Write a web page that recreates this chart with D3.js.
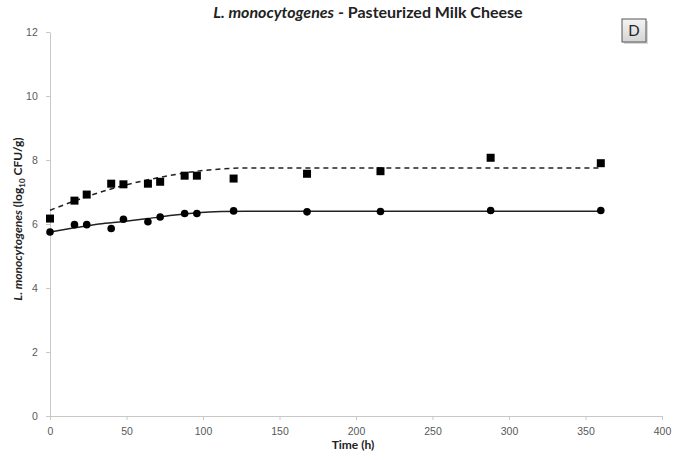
<!DOCTYPE html>
<html>
<head>
<meta charset="utf-8">
<script src="https://cdn.jsdelivr.net/npm/d3@7"></script>
<style>
  body { margin: 0; background: #fff; }
  svg { font-family: Lato, "Open Sans", sans-serif; }
</style>
</head>
<body>
<div id="chart"></div>
<script>
// sampling times (h)
const times = [0, 16, 24, 40, 48, 64, 72, 88, 96, 120, 168, 216, 288, 360];
// observed counts, log10 CFU/g
const squareObs = [6.17, 6.73, 6.92, 7.26, 7.24, 7.26, 7.32, 7.51, 7.51, 7.42, 7.57, 7.65, 8.07, 7.90];
const circleObs = [5.75, 5.98, 5.98, 5.86, 6.15, 6.07, 6.22, 6.33, 6.33, 6.41, 6.38, 6.39, 6.42, 6.42];

// fitted curves
const fitTimes = [0, 16, 32, 48, 64, 80, 96, 112, 128, 360];
const dashedFit = [6.43, 6.72, 6.98, 7.20, 7.38, 7.53, 7.65, 7.72, 7.75, 7.75];
const solidFit = [5.75, 5.88, 6.00, 6.08, 6.17, 6.27, 6.35, 6.39, 6.40, 6.40];

const xTicks = [0, 50, 100, 150, 200, 250, 300, 350, 400];
const yTicks = [0, 2, 4, 6, 8, 10, 12];

const margin = {top: 32, right: 29, bottom: 44, left: 50};
const width = 691 - margin.left - margin.right;
const height = 460 - margin.top - margin.bottom;

const svg = d3.select('#chart').append('svg')
    .attr('width', 691)
    .attr('height', 460);

const g = svg.append('g')
    .attr('transform', `translate(${margin.left},${margin.top})`);

const x = d3.scaleLinear().domain([0, 400]).range([0, width]);
const y = d3.scaleLinear().domain([0, 12]).range([height, 0]);

const axisColor = '#c8c8c8';
const labelColor = '#595959';

// axes
g.append('g')
    .attr('transform', `translate(0,${height})`)
    .call(d3.axisBottom(x).tickValues(xTicks).tickSize(4).tickSizeOuter(0))
    .call(a => a.select('.domain').attr('stroke', axisColor))
    .call(a => a.selectAll('line').attr('stroke', axisColor))
    .call(a => a.selectAll('text').attr('fill', labelColor).attr('font-size', 10.5).attr('dy', '1.1em'));

g.append('g')
    .call(d3.axisLeft(y).tickValues(yTicks).tickSize(4).tickSizeOuter(0))
    .call(a => a.select('.domain').attr('stroke', axisColor))
    .call(a => a.selectAll('line').attr('stroke', axisColor))
    .call(a => a.selectAll('text').attr('fill', labelColor).attr('font-size', 10.5).attr('dx', '-0.5em'));

// fitted lines
const line = d3.line()
    .x(d => x(d[0]))
    .y(d => y(d[1]))
    .curve(d3.curveMonotoneX);

g.append('path')
    .datum(fitTimes.map((t, i) => [t, dashedFit[i]]))
    .attr('fill', 'none')
    .attr('stroke', '#222')
    .attr('stroke-width', 1.5)
    .attr('stroke-dasharray', '5,4')
    .attr('d', line);

g.append('path')
    .datum(fitTimes.map((t, i) => [t, solidFit[i]]))
    .attr('fill', 'none')
    .attr('stroke', '#222')
    .attr('stroke-width', 1.5)
    .attr('d', line);

// observations
g.append('g').selectAll('rect')
  .data(times.map((t, i) => [t, squareObs[i]]))
  .join('rect')
    .attr('x', d => x(d[0]) - 4)
    .attr('y', d => y(d[1]) - 4)
    .attr('width', 8)
    .attr('height', 8)
    .attr('fill', '#000');

g.append('g').selectAll('circle')
  .data(times.map((t, i) => [t, circleObs[i]]))
  .join('circle')
    .attr('cx', d => x(d[0]))
    .attr('cy', d => y(d[1]))
    .attr('r', 3.8)
    .attr('fill', '#000');

// title
const title = svg.append('text')
    .attr('x', 368)
    .attr('y', 18)
    .attr('text-anchor', 'middle')
    .attr('font-size', 16)
    .attr('font-weight', 'bold')
    .attr('fill', '#222');
title.append('tspan').attr('font-style', 'italic').text('L. monocytogenes');
title.append('tspan').text(' - Pasteurized Milk Cheese');

// y label
const yLabel = svg.append('text')
    .attr('transform', `translate(22,219) rotate(-90)`)
    .attr('text-anchor', 'middle')
    .attr('font-size', 12)
    .attr('font-weight', 'bold')
    .attr('fill', '#222');
yLabel.append('tspan').attr('font-style', 'italic').text('L. monocytogenes');
yLabel.append('tspan').text(' (log');
yLabel.append('tspan').attr('font-size', 8).attr('dy', 3).text('10');
yLabel.append('tspan').attr('dy', -3).text(' CFU/g)');

// x label
svg.append('text')
    .attr('x', 353)
    .attr('y', 449)
    .attr('text-anchor', 'middle')
    .attr('font-size', 12)
    .attr('font-weight', 'bold')
    .attr('fill', '#222')
    .text('Time (h)');

// panel badge
const defs = svg.append('defs');
const grad = defs.append('linearGradient')
    .attr('id', 'badge')
    .attr('x1', 0).attr('y1', 0).attr('x2', 0).attr('y2', 1);
grad.append('stop').attr('offset', '0%').attr('stop-color', '#f4f4f4');
grad.append('stop').attr('offset', '100%').attr('stop-color', '#d4d4d4');

svg.append('rect')
    .attr('x', 624).attr('y', 21)
    .attr('width', 24).attr('height', 23)
    .attr('fill', '#d8d8d8');
svg.append('rect')
    .attr('x', 622).attr('y', 19)
    .attr('width', 24).attr('height', 23)
    .attr('fill', 'url(#badge)')
    .attr('stroke', '#555')
    .attr('stroke-width', 1);
svg.append('text')
    .attr('x', 634).attr('y', 36)
    .attr('text-anchor', 'middle')
    .attr('font-size', 15)
    .attr('fill', '#222')
    .text('D');
</script>
</body>
</html>
